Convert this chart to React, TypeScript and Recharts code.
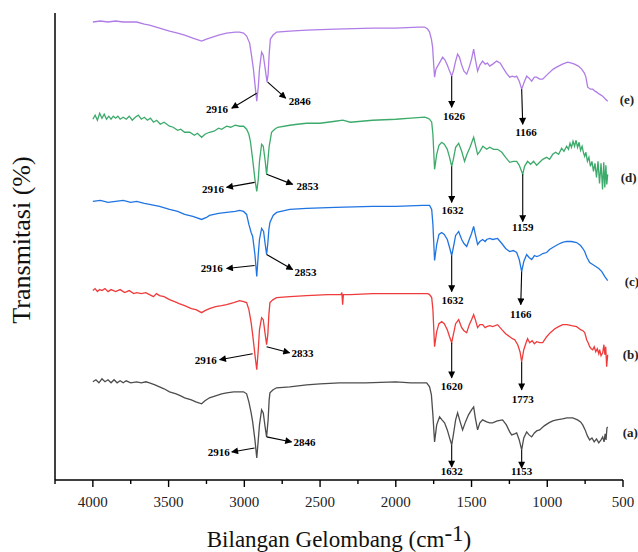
import React from "react";
import { LineChart, Line, XAxis, YAxis, ReferenceLine, ReferenceDot } from "recharts";

// wavenumber (cm-1), transmittance (stacked, arbitrary units)
const spectrumA: [number, number][] = [
  [4000, 98], [3980, 100], [3960, 97], [3940, 101], [3920, 98], [3900, 100], [3880, 97], [3860, 100], [3840, 97],
  [3820, 99], [3800, 97], [3780, 99], [3750, 97], [3711, 98], [3680, 97], [3650, 98], [3626, 97], [3590, 95],
  [3560, 93], [3530, 91], [3494, 88], [3450, 86], [3420, 84], [3394, 82], [3350, 80], [3320, 78], [3282, 76],
  [3260, 79], [3230, 82], [3190, 84], [3150, 86], [3117, 87], [3070, 88], [3031, 88], [3005, 88], [2985, 86],
  [2970, 78], [2955, 67], [2945, 58], [2930, 40], [2918, 22], [2908, 40], [2900, 55], [2886, 70], [2875, 67],
  [2862, 52], [2853, 43], [2843, 60], [2836, 80], [2831, 87], [2810, 90], [2787, 92], [2700, 93], [2589, 95],
  [2500, 96], [2371, 97], [2200, 97], [2000, 98], [1900, 97], [1823, 97], [1796, 97], [1777, 93], [1765, 85],
  [1755, 65], [1744, 38], [1730, 55], [1711, 63], [1695, 60], [1678, 57], [1660, 50], [1645, 42], [1631, 35],
  [1620, 45], [1605, 60], [1592, 67], [1575, 58], [1559, 50], [1540, 58], [1520, 65], [1500, 70], [1486, 73],
  [1475, 62], [1460, 50], [1445, 57], [1427, 60], [1400, 58], [1380, 57], [1361, 57], [1330, 59], [1295, 60],
  [1270, 55], [1248, 48], [1235, 45], [1215, 46], [1202, 47], [1185, 40], [1169, 30], [1155, 42], [1136, 48],
  [1120, 45], [1103, 43], [1085, 47], [1070, 49], [1050, 50], [1020, 54], [990, 57], [964, 59], [938, 60],
  [900, 61], [870, 62], [832, 62], [800, 60], [780, 58], [766, 55], [750, 50], [735, 44], [720, 40], [705, 42],
  [690, 38], [675, 41], [660, 37], [645, 40], [634, 43], [625, 38], [618, 46], [612, 40], [606, 52], [601, 53],
];

const spectrumB: [number, number][] = [
  [4000, 189], [3985, 191], [3970, 188], [3955, 190], [3940, 189], [3920, 191], [3900, 188], [3880, 190],
  [3850, 188], [3820, 190], [3790, 187], [3760, 189], [3730, 186], [3711, 187], [3680, 186], [3650, 187],
  [3626, 185], [3600, 183], [3580, 186], [3560, 184], [3530, 183], [3494, 180], [3460, 178], [3430, 176],
  [3394, 174], [3350, 171], [3320, 170], [3282, 167], [3260, 169], [3230, 171], [3190, 173], [3150, 174],
  [3117, 175], [3070, 177], [3031, 179], [3005, 178], [2985, 177], [2970, 170], [2955, 157], [2945, 145],
  [2930, 125], [2918, 110], [2908, 130], [2900, 150], [2886, 162], [2875, 160], [2862, 145], [2853, 135],
  [2845, 145], [2838, 165], [2831, 177], [2810, 180], [2787, 182], [2700, 183], [2589, 184], [2450, 185],
  [2362, 185], [2356, 187], [2351, 175], [2346, 185], [2300, 185], [2153, 186], [2000, 186], [1823, 186],
  [1790, 186], [1777, 185], [1763, 182], [1755, 170], [1744, 133], [1730, 148], [1715, 156], [1697, 158],
  [1680, 156], [1660, 150], [1645, 143], [1631, 137], [1620, 145], [1605, 156], [1585, 160], [1565, 152],
  [1550, 149], [1532, 147], [1515, 155], [1500, 160], [1486, 165], [1475, 160], [1460, 152], [1445, 155],
  [1427, 155], [1410, 152], [1400, 153], [1380, 154], [1360, 153], [1328, 155], [1300, 150], [1275, 146],
  [1248, 143], [1230, 141], [1215, 140], [1195, 135], [1180, 128], [1169, 118], [1155, 130], [1140, 137],
  [1130, 141], [1116, 137], [1100, 139], [1085, 136], [1070, 138], [1050, 137], [1030, 137], [1004, 143],
  [980, 147], [950, 151], [925, 153], [898, 155], [870, 155], [840, 154], [806, 153], [780, 150], [765, 149],
  [753, 147], [745, 143], [740, 140], [730, 137], [720, 133], [710, 131], [700, 130], [690, 133], [680, 128],
  [670, 131], [660, 126], [654, 130], [645, 124], [634, 127], [626, 135], [620, 125], [614, 133], [608, 113],
  [601, 125],
];

const spectrumC: [number, number][] = [
  [4000, 278], [3950, 279], [3900, 277], [3850, 278], [3800, 279], [3750, 277], [3711, 278], [3660, 276],
  [3626, 275], [3560, 273], [3494, 270], [3440, 268], [3394, 265], [3340, 263], [3282, 260], [3250, 262],
  [3230, 264], [3170, 266], [3117, 267], [3060, 268], [3031, 269], [3005, 268], [2985, 265], [2970, 255],
  [2955, 247], [2945, 243], [2930, 225], [2918, 203], [2908, 225], [2900, 240], [2886, 251], [2873, 248],
  [2862, 235], [2853, 225], [2845, 236], [2838, 250], [2831, 257], [2810, 264], [2787, 267], [2700, 270],
  [2589, 271], [2400, 272], [2153, 273], [2000, 273], [1823, 274], [1790, 274], [1777, 274], [1763, 270],
  [1755, 255], [1744, 219], [1730, 235], [1715, 245], [1697, 247], [1680, 245], [1660, 240], [1645, 232],
  [1631, 224], [1620, 232], [1605, 244], [1585, 248], [1565, 240], [1550, 236], [1532, 233], [1515, 240],
  [1500, 246], [1486, 253], [1475, 245], [1460, 235], [1445, 238], [1427, 240], [1410, 238], [1400, 240],
  [1380, 241], [1360, 240], [1328, 241], [1300, 236], [1275, 231], [1248, 228], [1225, 229], [1202, 227],
  [1185, 220], [1169, 208], [1155, 218], [1136, 225], [1120, 222], [1103, 220], [1085, 224], [1070, 223],
  [1050, 224], [1030, 226], [1004, 227], [985, 230], [964, 232], [930, 235], [900, 237], [872, 238], [840, 238],
  [806, 237], [780, 234], [765, 231], [753, 228], [738, 222], [720, 217], [700, 215], [680, 213], [660, 211],
  [640, 208], [620, 203], [601, 199],
];

const spectrumD: [number, number][] = [
  [4000, 360], [3985, 364], [3970, 359], [3955, 366], [3940, 361], [3925, 365], [3910, 360], [3895, 363],
  [3880, 360], [3865, 363], [3850, 361], [3835, 363], [3820, 360], [3800, 362], [3780, 360], [3760, 363],
  [3740, 359], [3720, 362], [3700, 364], [3680, 360], [3660, 362], [3640, 359], [3620, 361], [3600, 357],
  [3579, 359], [3555, 355], [3530, 357], [3494, 353], [3470, 352], [3440, 349], [3420, 350], [3394, 347],
  [3360, 347], [3330, 344], [3310, 346], [3282, 342], [3260, 345], [3230, 347], [3200, 348], [3170, 351],
  [3150, 350], [3117, 353], [3090, 352], [3060, 354], [3031, 353], [3005, 353], [2985, 350], [2970, 345],
  [2960, 338], [2945, 320], [2930, 300], [2918, 288], [2908, 300], [2900, 318], [2886, 335], [2875, 333],
  [2862, 318], [2853, 305], [2845, 318], [2836, 333], [2820, 347], [2800, 350], [2780, 352], [2700, 354],
  [2650, 355], [2589, 356], [2500, 356], [2400, 358], [2350, 359], [2300, 357], [2153, 359], [2000, 360],
  [1900, 361], [1810, 362], [1790, 361], [1777, 360], [1763, 357], [1755, 345], [1744, 310], [1730, 325],
  [1715, 334], [1697, 337], [1680, 335], [1660, 330], [1645, 322], [1631, 313], [1620, 320], [1605, 332],
  [1585, 336], [1565, 328], [1546, 318], [1530, 325], [1510, 332], [1486, 342], [1475, 335], [1460, 325],
  [1445, 328], [1425, 333], [1400, 330], [1380, 332], [1355, 330], [1328, 330], [1300, 327], [1275, 322],
  [1248, 317], [1225, 318], [1202, 318], [1185, 314], [1162, 305], [1150, 313], [1130, 318], [1110, 315],
  [1090, 318], [1070, 314], [1050, 317], [1030, 320], [1004, 322], [985, 320], [964, 325], [945, 327],
  [925, 325], [905, 331], [890, 328], [872, 333], [860, 330], [850, 336], [840, 332], [830, 338], [820, 333],
  [810, 339], [800, 332], [790, 337], [780, 329], [770, 333], [760, 326], [753, 323], [745, 327], [735, 318],
  [725, 322], [715, 313], [705, 318], [695, 308], [685, 316], [675, 302], [665, 318], [655, 296], [645, 316],
  [635, 290], [627, 317], [620, 292], [613, 314], [607, 295], [601, 305],
];

const spectrumE: [number, number][] = [
  [4000, 457], [3950, 458], [3900, 457], [3850, 458], [3800, 457], [3750, 457], [3711, 457], [3660, 455],
  [3626, 454], [3560, 451], [3494, 448], [3440, 446], [3394, 444], [3340, 441], [3282, 438], [3250, 440],
  [3230, 441], [3170, 444], [3117, 446], [3060, 447], [3031, 447], [3005, 446], [2985, 443], [2965, 436],
  [2952, 423], [2940, 410], [2930, 395], [2918, 378], [2908, 392], [2900, 410], [2886, 427], [2875, 424],
  [2862, 410], [2850, 397], [2843, 405], [2836, 425], [2828, 440], [2810, 444], [2787, 447], [2700, 448],
  [2589, 449], [2400, 450], [2153, 451], [2000, 451], [1850, 452], [1810, 452], [1790, 450], [1777, 447],
  [1765, 440], [1757, 432], [1750, 415], [1744, 402], [1735, 410], [1724, 413], [1705, 418], [1691, 422],
  [1675, 419], [1660, 414], [1645, 408], [1631, 403], [1620, 408], [1605, 418], [1592, 425], [1580, 422],
  [1565, 414], [1550, 408], [1532, 405], [1515, 412], [1500, 420], [1486, 430], [1475, 420], [1460, 408],
  [1445, 414], [1427, 418], [1410, 415], [1395, 416], [1380, 413], [1360, 415], [1334, 418], [1310, 416],
  [1295, 412], [1270, 406], [1248, 402], [1230, 403], [1215, 402], [1202, 403], [1185, 398], [1169, 390],
  [1150, 398], [1136, 403], [1120, 401], [1103, 398], [1085, 402], [1070, 402], [1050, 400], [1030, 400],
  [1010, 403], [990, 406], [960, 410], [938, 412], [900, 415], [865, 417], [840, 416], [820, 415], [795, 413],
  [773, 410], [755, 406], [745, 402], [738, 396], [733, 392], [715, 390], [700, 390], [685, 388], [674, 387],
  [655, 385], [634, 383], [615, 380], [601, 378],
];

const xTicks = [4250, 4000, 3750, 3500, 3250, 3000, 2750, 2500, 2250, 2000, 1750, 1500, 1250, 1000, 750, 500];

const seriesTags = ["(a)", "(b)", "(c)", "(d)", "(e)"];
const seriesColors = ["#4d4d4d", "#ef3b3b", "#1f74e2", "#3caa6a", "#b07ce6"];
const seriesTagAt: [number, number][] = [[502, 47], [502, 125], [489, 198], [515, 302], [522, 380]];

// peak label, arrow start (on curve), arrow tip, label anchor, text anchor
type PeakMark = { label: string; from: [number, number]; to: [number, number]; at: [number, number]; anchor: "start" | "middle" | "end" };
const peakMarks: PeakMark[] = [
  { label: "2916", from: [2918, 386], to: [3083, 371], at: [3108, 370], anchor: "end" },
  { label: "2846", from: [2846, 397], to: [2727, 381], at: [2707, 378], anchor: "start" },
  { label: "1626", from: [1631, 403], to: [1631, 372], at: [1615, 363], anchor: "middle" },
  { label: "1166", from: [1169, 390], to: [1162, 355], at: [1140, 347], anchor: "middle" },

  { label: "2916", from: [2932, 297], to: [3117, 292], at: [3135, 290], anchor: "end" },
  { label: "2853", from: [2853, 305], to: [2681, 295], at: [2655, 293], anchor: "start" },
  { label: "1632", from: [1631, 313], to: [1631, 277], at: [1625, 269], anchor: "middle" },
  { label: "1159", from: [1162, 305], to: [1162, 258], at: [1162, 252], anchor: "middle" },

  { label: "2916", from: [2932, 214], to: [3117, 211], at: [3143, 212], anchor: "end" },
  { label: "2853", from: [2853, 225], to: [2681, 210], at: [2668, 208], anchor: "start" },
  { label: "1632", from: [1631, 224], to: [1631, 188], at: [1625, 180], anchor: "middle" },
  { label: "1166", from: [1169, 208], to: [1175, 175], at: [1175, 166], anchor: "middle" },

  { label: "2916", from: [2945, 126], to: [3163, 120], at: [3182, 120], anchor: "end" },
  { label: "2833", from: [2853, 133], to: [2701, 127], at: [2688, 127], anchor: "start" },
  { label: "1620", from: [1631, 137], to: [1631, 102], at: [1631, 94], anchor: "middle" },
  { label: "1773", from: [1169, 118], to: [1169, 90], at: [1162, 81], anchor: "middle" },

  { label: "2916", from: [2932, 32], to: [3083, 28], at: [3097, 28], anchor: "end" },
  { label: "2846", from: [2853, 43], to: [2688, 38], at: [2675, 38], anchor: "start" },
  { label: "1632", from: [1631, 35], to: [1631, 13], at: [1631, 9], anchor: "middle" },
  { label: "1153", from: [1169, 30], to: [1169, 12], at: [1169, 9], anchor: "middle" },
];

const spectra = [spectrumA, spectrumB, spectrumC, spectrumD, spectrumE];
const toRows = (pts: [number, number][]) => pts.map(([wn, t]) => ({ wn, t }));

const serif = "'Liberation Serif', 'Times New Roman', serif";

const AxisTick = (props: any) => {
  const { x, y, payload } = props;
  const major = payload.value % 500 === 0;
  return (
    <g>
      <line x1={x} x2={x} y1={y} y2={y + (major ? 7 : 4)} stroke="#000" strokeWidth={1.4} />
      {major && payload.value <= 4000 && (
        <text x={x} y={y + 27} textAnchor="middle" fontSize={15} fontFamily={serif} fill="#222">
          {payload.value}
        </text>
      )}
    </g>
  );
};

export default function App() {
  return (
    <div style={{ position: "relative", width: 638, height: 552, overflow: "hidden", background: "#fff" }}>
      <style>{"body{margin:0;overflow:hidden}"}</style>
      <svg width={0} height={0} style={{ position: "absolute" }}>
        <defs>
          <marker id="arrowHead" viewBox="0 0 10 10" refX="9" refY="5" markerWidth="10" markerHeight="7"
            markerUnits="userSpaceOnUse" orient="auto">
            <path d="M0,0 L10,5 L0,10 z" fill="#000" />
          </marker>
        </defs>
      </svg>
      <LineChart width={638} height={552} margin={{ top: 13, right: 15, left: 55, bottom: 32 }}>
        <XAxis
          type="number"
          dataKey="wn"
          domain={[500, 4250]}
          reversed
          allowDataOverflow
          ticks={xTicks}
          interval={0}
          tick={<AxisTick />}
          tickLine={false}
          tickSize={0}
          tickMargin={0}
          height={40}
          axisLine={{ stroke: "#000", strokeWidth: 1.5 }}
        />
        <YAxis type="number" dataKey="t" domain={[0, 466]} hide />
        <ReferenceLine x={4250} stroke="#000" strokeWidth={1.5} />
        {spectra.map((s, i) => (
          <Line
            key={seriesTags[i]}
            data={toRows(s)}
            dataKey="t"
            type="linear"
            stroke={seriesColors[i]}
            strokeWidth={1.3}
            dot={false}
            isAnimationActive={false}
          />
        ))}
        {peakMarks.map((m, i) => (
          <ReferenceLine
            key={"l" + i}
            segment={[{ x: m.from[0], y: m.from[1] }, { x: m.to[0], y: m.to[1] }]}
            ifOverflow="visible"
            shape={(p: any) => (
              <line x1={p.x1} y1={p.y1} x2={p.x2} y2={p.y2} stroke="#000" strokeWidth={1.1} markerEnd="url(#arrowHead)" />
            )}
          />
        ))}
        {peakMarks.map((m, i) => (
          <ReferenceDot
            key={"t" + i}
            x={m.at[0]}
            y={m.at[1]}
            ifOverflow="visible"
            shape={(p: any) => (
              <text x={p.cx} y={p.cy} textAnchor={m.anchor} dominantBaseline="central" fontSize={11}
                fontWeight="bold" fontFamily={serif} fill="#000">
                {m.label}
              </text>
            )}
          />
        ))}
        {seriesTags.map((tag, i) => (
          <ReferenceDot
            key={tag}
            x={seriesTagAt[i][0]}
            y={seriesTagAt[i][1]}
            ifOverflow="visible"
            shape={(p: any) => (
              <text x={p.cx} y={p.cy} textAnchor="start" dominantBaseline="central" fontSize={13}
                fontWeight="bold" fontFamily={serif} fill="#222">
                {tag}
              </text>
            )}
          />
        ))}
      </LineChart>
      <div style={{ position: "absolute", left: 139, width: 400, top: 527, textAlign: "center",
        fontFamily: serif, fontSize: 23, color: "#111", whiteSpace: "nowrap", lineHeight: "26px" }}>
        Bilangan Gelombang (cm<span style={{ position: "relative", top: -6 }}>-1</span>)
      </div>
      <div style={{ position: "absolute", left: 22, top: 240, transform: "translate(-50%, -50%) rotate(-90deg)",
        fontFamily: serif, fontSize: 26, color: "#111", whiteSpace: "nowrap" }}>
        Transmitasi (%)
      </div>
    </div>
  );
}
